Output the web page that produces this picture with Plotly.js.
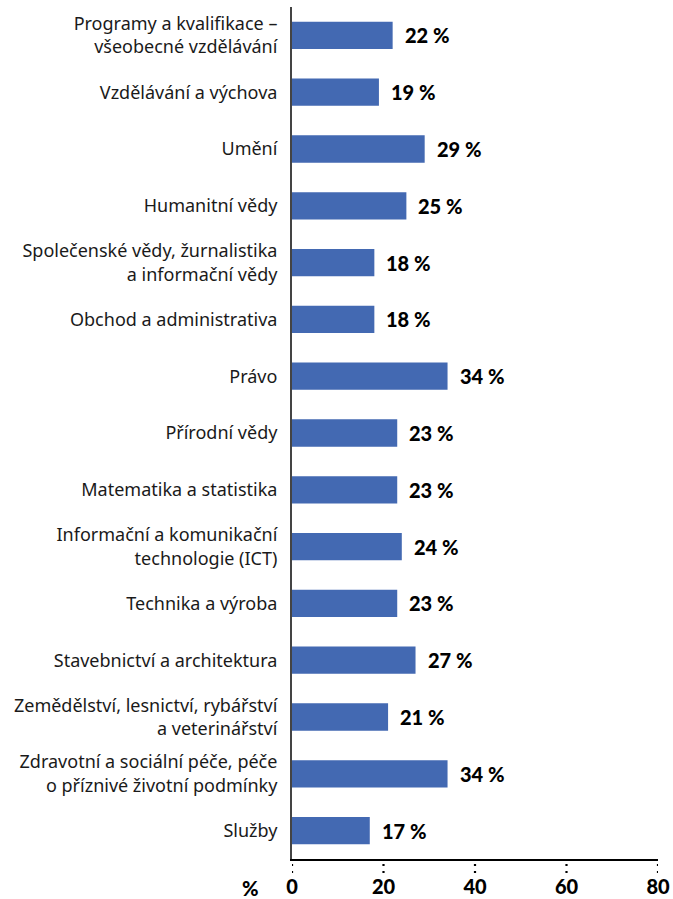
<!DOCTYPE html>
<html>
<head>
<meta charset="utf-8">
<script src="https://cdn.plot.ly/plotly-3.0.1.min.js"></script>
<style>html,body{margin:0;padding:0;background:#fff;}#chart{width:673px;height:899px;}</style>
</head>
<body>
<div id="chart"></div>
<script>
const categories = [
  "Programy a kvalifikace –<br>všeobecné vzdělávání",
  "Vzdělávání a výchova",
  "Umění",
  "Humanitní vědy",
  "Společenské vědy, žurnalistika<br>a informační vědy",
  "Obchod a administrativa",
  "Právo",
  "Přírodní vědy",
  "Matematika a statistika",
  "Informační a komunikační<br>technologie (ICT)",
  "Technika a výroba",
  "Stavebnictví a architektura",
  "Zemědělství, lesnictví, rybářství<br>a veterinářství",
  "Zdravotní a sociální péče, péče<br>o příznivé životní podmínky",
  "Služby"
];
const values = [22, 19, 29, 25, 18, 18, 34, 23, 23, 24, 23, 27, 21, 34, 17];
const xTicks = [0, 20, 40, 60, 80];
const unitLabel = "%";

const barColor = "#4369b2";
const labelFont = "Lato, 'Noto Sans', sans-serif";

const trace = {
  type: "bar",
  orientation: "h",
  x: values,
  y: categories,
  marker: {color: barColor},
  width: 0.48,
  hoverinfo: "x+y"
};

const annotations = values.map((v, i) => ({
  x: v, y: categories[i], xref: "x", yref: "y",
  text: v + " %", showarrow: false,
  xanchor: "left", xshift: 10,
  font: {family: labelFont, size: 20, color: "#000", weight: 900}
}));
annotations.push({
  x: 0, y: 0, xref: "paper", yref: "paper",
  text: unitLabel, showarrow: false,
  xanchor: "right", yanchor: "middle", xshift: -31, yshift: -29,
  font: {family: labelFont, size: 20, color: "#000", weight: 900}
});

const shapes = xTicks.map(t => ({
  type: "line", xref: "x", yref: "paper",
  x0: t, x1: t, y0: -0.006, y1: -0.021,
  line: {color: "#000", width: 2.2, dash: "2px,5px"}
}));

const layout = {
  width: 673, height: 899,
  margin: {l: 292, r: 15, t: 7, b: 40},
  paper_bgcolor: "#fff", plot_bgcolor: "#fff",
  showlegend: false,
  bargap: 0.52,
  xaxis: {
    range: [0, 80], tickvals: xTicks, ticktext: xTicks.map(String),
    showgrid: false, zeroline: false,
    showline: true, linecolor: "#000", linewidth: 2,
    ticks: "outside", ticklen: 9, tickcolor: "rgba(0,0,0,0)",
    tickfont: {family: labelFont, size: 20, color: "#000", weight: 900},
    fixedrange: true
  },
  yaxis: {
    autorange: "reversed",
    showgrid: false, zeroline: false,
    showline: true, linecolor: "#444", linewidth: 2,
    ticks: "outside", ticklen: 9, tickcolor: "rgba(0,0,0,0)",
    tickfont: {family: "'Noto Sans', sans-serif", size: 18, color: "#1a1a1a"},
    fixedrange: true
  },
  annotations: annotations,
  shapes: shapes
};

Plotly.newPlot("chart", [trace], layout, {displayModeBar: false, staticPlot: true});
</script>
</body>
</html>
